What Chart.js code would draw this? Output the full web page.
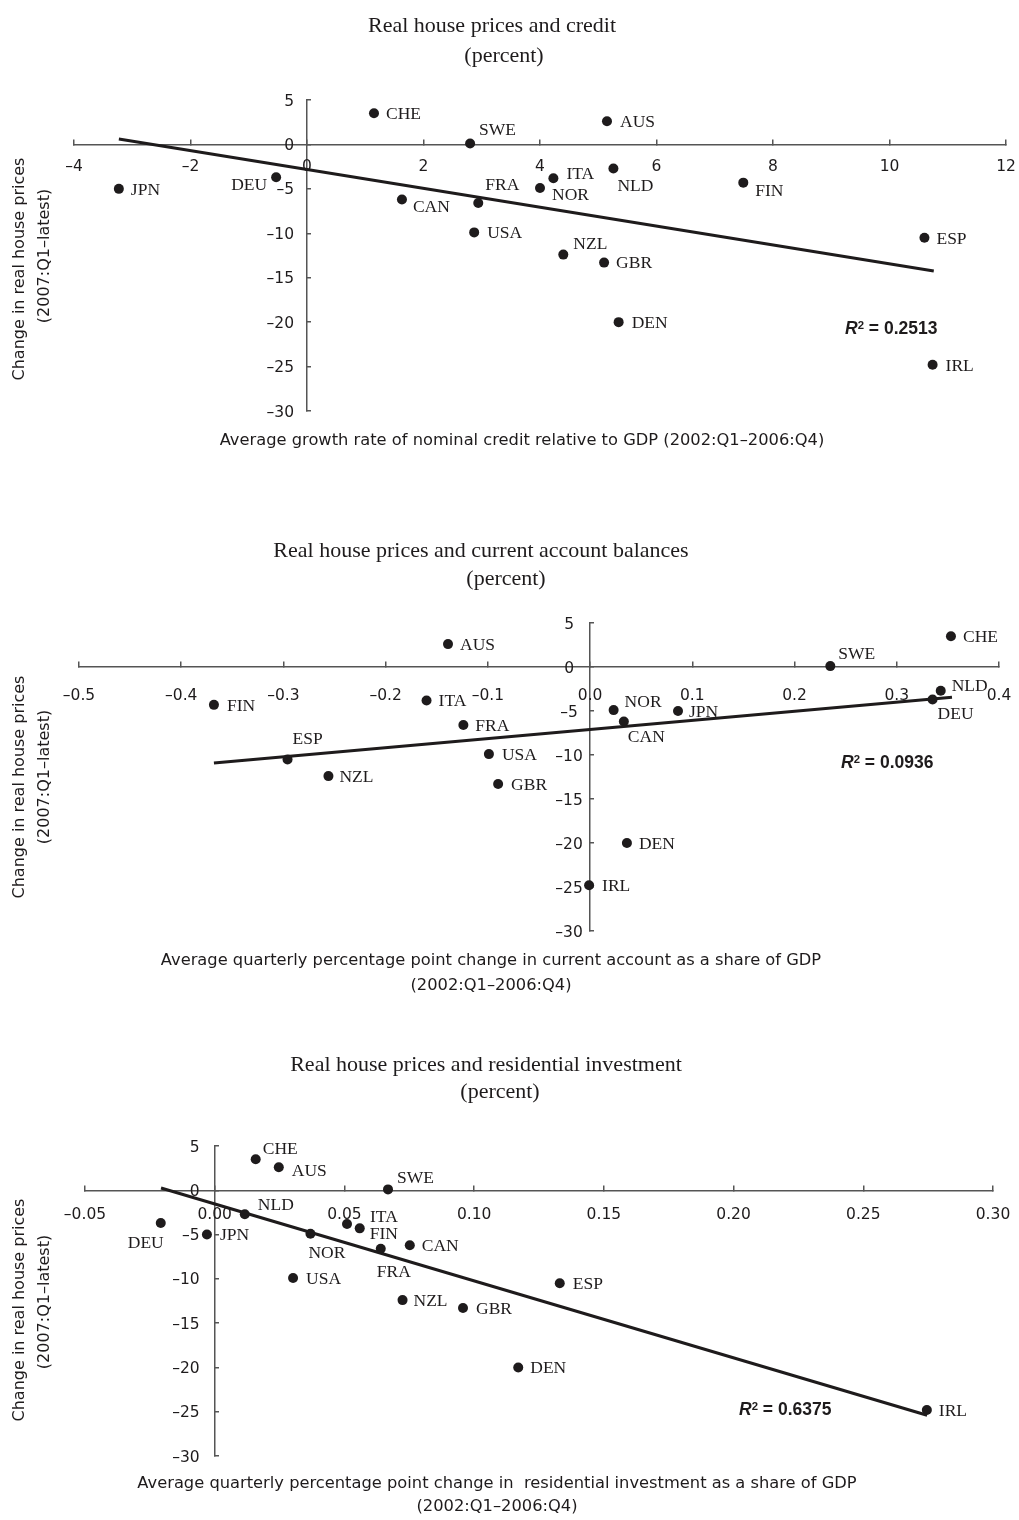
<!DOCTYPE html>
<html><head><meta charset="utf-8">
<script src="https://cdn.jsdelivr.net/npm/chart.js@4.4.1/dist/chart.umd.min.js"></script>
<style>
html,body{margin:0;padding:0;background:#fff;}
#wrap{position:relative;width:1019px;height:1520px;overflow:hidden;background:#fff;}
canvas{position:absolute;left:0;}
.t{position:absolute;white-space:nowrap;line-height:1;color:#1e1b1c;transform:translate(-50%,-50%);}
.serif{font-family:"Liberation Serif","Times New Roman",serif;font-size:22px;}
.sans{font-family:"DejaVu Sans",sans-serif;font-size:16.3px;}
.rot{transform:translate(-50%,-50%) rotate(-90deg);font-size:16px;}
.r2{position:absolute;white-space:nowrap;line-height:1;color:#1e1b1c;font-family:"Liberation Sans",Arial,sans-serif;font-weight:bold;font-size:17.5px;transform:translateY(-50%);}
.r2 sup{font-size:0.65em;position:relative;top:-0.45em;vertical-align:baseline;line-height:0;}
</style></head>
<body><div id="wrap">
<canvas id="c1" width="1019" height="470" style="top:0px;width:1019px;height:470px"></canvas>
<canvas id="c2" width="1019" height="530" style="top:470px;width:1019px;height:530px"></canvas>
<canvas id="c3" width="1019" height="520" style="top:1000px;width:1019px;height:520px"></canvas>

<div class="t serif" style="left:492px;top:24.5px">Real house prices and credit</div>
<div class="t serif" style="left:504px;top:55px">(percent)</div>
<div class="t sans rot" style="left:18.5px;top:269px">Change in real house prices</div>
<div class="t sans rot" style="left:44px;top:256px">(2007:Q1–latest)</div>
<div class="t sans" style="left:522px;top:440px">Average growth rate of nominal credit relative to GDP (2002:Q1–2006:Q4)</div>
<div class="r2" id="r2a" style="left:845px;top:329px"></div>

<div class="t serif" style="left:481px;top:550px">Real house prices and current account balances</div>
<div class="t serif" style="left:506px;top:578px">(percent)</div>
<div class="t sans rot" style="left:18.5px;top:787px">Change in real house prices</div>
<div class="t sans rot" style="left:44px;top:777px">(2007:Q1–latest)</div>
<div class="t sans" style="left:491px;top:960px">Average quarterly percentage point change in current account as a share of GDP</div>
<div class="t sans" style="left:491px;top:985px">(2002:Q1–2006:Q4)</div>
<div class="r2" id="r2b" style="left:841px;top:763px"></div>

<div class="t serif" style="left:486px;top:1064px">Real house prices and residential investment</div>
<div class="t serif" style="left:500px;top:1091px">(percent)</div>
<div class="t sans rot" style="left:18.5px;top:1310px">Change in real house prices</div>
<div class="t sans rot" style="left:44px;top:1302px">(2007:Q1–latest)</div>
<div class="t sans" style="left:497px;top:1483px">Average quarterly percentage point change in&nbsp; residential investment as a share of GDP</div>
<div class="t sans" style="left:497px;top:1506px">(2002:Q1–2006:Q4)</div>
<div class="r2" id="r2c" style="left:739px;top:1410px"></div>
</div>
<script>
// ---------------- data ----------------
const countries = ['AUS','CAN','CHE','DEN','DEU','ESP','FIN','FRA','GBR','IRL','ITA','JPN','NLD','NOR','NZL','SWE','USA'];
const housePriceChange = [2.6,-6.2,3.5,-20.0,-3.7,-10.5,-4.3,-6.6,-13.3,-24.8,-3.8,-5.0,-2.7,-4.9,-12.4,0.1,-9.9];
const creditGrowth = [5.15,1.63,1.15,5.35,-0.53,10.6,7.49,2.94,5.1,10.74,4.23,-3.23,5.26,4.0,4.4,2.8,2.87];
const currentAccountChange = [-0.139,0.033,0.353,0.036,0.335,-0.296,-0.368,-0.124,-0.090,-0.001,-0.160,0.086,0.343,0.023,-0.256,0.235,-0.099];
const resInvestmentChange = [0.0247,0.0752,0.0158,0.117,-0.0208,0.133,0.0559,0.064,0.0957,0.2745,0.051,-0.003,0.0116,0.0369,0.0724,0.0668,0.0302];
const trend1X = [-3.23, 10.76], trend1Y = [0.6, -14.25];
const trend2X = [-0.368, 0.354], trend2Y = [-10.9, -3.45];
const trend3X = [-0.0207, 0.2746], trend3Y = [0.26, -25.4];
const rSquared = ['0.2513','0.0936','0.6375'];
const yTicks = [-30,-25,-20,-15,-10,-5,0,5];
const yTickLabels = ['–30','–25','–20','–15','–10','–5','0','5'];
const x1Ticks = [-4,-2,0,2,4,6,8,10,12];
const x1TickLabels = ['–4','–2','0','2','4','6','8','10','12'];
const x2Ticks = [-0.5,-0.4,-0.3,-0.2,-0.1,0,0.1,0.2,0.3,0.4];
const x2TickLabels = ['–0.5','–0.4','–0.3','–0.2','–0.1','0.0','0.1','0.2','0.3','0.4'];
const x3Ticks = [-0.05,0,0.05,0.10,0.15,0.20,0.25,0.30];
const x3TickLabels = ['–0.05','0.00','0.05','0.10','0.15','0.20','0.25','0.30'];

// ---------------- label placement (style) ----------------
const place = {
  c1: {CHE:[12,0],SWE:[9,-14],JPN:[12,0],DEU:[-9,7,'right'],CAN:[11,7],FRA:[7,-19],USA:[13,0],AUS:[13,0],ITA:[13,-5],NLD:[4,17],NOR:[12,6],FIN:[12,8],ESP:[12,0],NZL:[10,-11],GBR:[12,0],DEN:[13,0],IRL:[13,0]},
  c2: {AUS:[12,0],FIN:[13,0],ITA:[12,0],FRA:[12,0],ESP:[5,-21],NZL:[11,0],USA:[13,0],GBR:[13,0],CHE:[12,0],SWE:[8,-13],NLD:[11,-6],DEU:[5,14],NOR:[11,-9],JPN:[11,0],CAN:[4,15],DEN:[12,0],IRL:[13,0]},
  c3: {CHE:[7,-11],AUS:[13,3],SWE:[9,-12],NLD:[13,-10],DEU:[3,19,'right'],JPN:[13,0],NOR:[-2,19],ITA:[23,-8],FIN:[10,5],FRA:[-4,22],CAN:[12,0],USA:[13,0],NZL:[11,0],GBR:[13,0],ESP:[13,0],DEN:[12,0],IRL:[12,0]}
};
const tickStyle = {
  c1: {xTicks:x1Ticks, xLabels:x1TickLabels, xOff:20.7, yAlign:'right', yDx:-13},
  c2: {xTicks:x2Ticks, xLabels:x2TickLabels, xOff:27, yAlign:'center', yDx:-21},
  c3: {xTicks:x3Ticks, xLabels:x3TickLabels, xOff:23, yAlign:'right', yDx:-15}
};
const INK = '#1e1b1c';
const AXIS = '#555555';
const TICK_PX = 15.5;
const LABEL_PX = 17.5;

const textPlugin = {
  id: 'textPlugin',
  afterDatasetsDraw(chart) {
    const id = chart.canvas.id;
    const ctx = chart.ctx;
    const xs = chart.scales.x, ys = chart.scales.y;
    const meta = chart.getDatasetMeta(0);
    ctx.save();
    ctx.fillStyle = INK;
    ctx.textBaseline = 'alphabetic';
    ctx.font = LABEL_PX + 'px "Liberation Serif", "Times New Roman", serif';
    meta.data.forEach((pt, i) => {
      const name = countries[i];
      const p = place[id][name] || [12, 0];
      ctx.textAlign = p[2] || 'left';
      ctx.fillText(name, pt.x + p[0], pt.y + p[1] + 0.331 * LABEL_PX);
    });
    const ts = tickStyle[id];
    const x0 = xs.getPixelForValue(0), y0 = ys.getPixelForValue(0);
    ctx.font = TICK_PX + 'px "DejaVu Sans", sans-serif';
    ctx.textAlign = 'center';
    ts.xTicks.forEach((v, i) => {
      ctx.fillText(ts.xLabels[i], xs.getPixelForValue(v), y0 + ts.xOff + 0.364 * TICK_PX);
    });
    ctx.textAlign = ts.yAlign;
    yTicks.forEach((v, i) => {
      ctx.fillText(yTickLabels[i], x0 + ts.yDx, ys.getPixelForValue(v) + 0.364 * TICK_PX);
    });
    ctx.restore();
  }
};

function makeChart(id, xData, tX, tY, xTicks, padding) {
  const pts = xData.map((x, i) => ({x: x, y: housePriceChange[i]}));
  const line = tX.map((x, i) => ({x: x, y: tY[i]}));
  return new Chart(document.getElementById(id), {
    type: 'scatter',
    data: {
      datasets: [
        {data: pts, pointRadius: 5, pointHoverRadius: 5, pointBackgroundColor: INK, pointBorderWidth: 0, showLine: false, clip: false, order: 2},
        {type: 'line', data: line, borderColor: INK, borderWidth: 3, pointRadius: 0, fill: false, tension: 0, clip: false, order: 1}
      ]
    },
    options: {
      responsive: false,
      maintainAspectRatio: false,
      devicePixelRatio: 1,
      animation: false,
      events: [],
      layout: {padding: padding},
      plugins: {legend: {display: false}, tooltip: {enabled: false}, title: {display: false}},
      scales: {
        x: {
          type: 'linear', axis: 'x', position: {y: 0},
          min: xTicks[0], max: xTicks[xTicks.length - 1],
          afterBuildTicks: (s) => { s.ticks = xTicks.map(v => ({value: v})); },
          ticks: {display: false},
          grid: {drawOnChartArea: false, drawTicks: true, tickLength: -6, color: AXIS, tickColor: AXIS, lineWidth: 1.5, tickWidth: 1.5},
          border: {display: true, color: AXIS, width: 1.5},
          title: {display: false}
        },
        y: {
          type: 'linear', axis: 'y', position: {x: 0},
          min: yTicks[0], max: yTicks[yTicks.length - 1],
          afterBuildTicks: (s) => { s.ticks = yTicks.map(v => ({value: v})); },
          ticks: {display: false},
          grid: {drawOnChartArea: false, drawTicks: true, tickLength: -5, color: AXIS, tickColor: AXIS, lineWidth: 1.5, tickWidth: 1.5},
          border: {display: true, color: AXIS, width: 1.5},
          title: {display: false}
        }
      }
    },
    plugins: [textPlugin]
  });
}

makeChart('c1', creditGrowth, trend1X, trend1Y, x1Ticks, {left: 74, right: 13, top: 100, bottom: 59});
makeChart('c2', currentAccountChange, trend2X, trend2Y, x2Ticks, {left: 79, right: 20, top: 153, bottom: 69});
makeChart('c3', resInvestmentChange, trend3X, trend3Y, x3Ticks, {left: 85, right: 26, top: 146, bottom: 64});

['r2a','r2b','r2c'].forEach((id, i) => {
  document.getElementById(id).innerHTML = '<i>R</i><sup>2</sup> = ' + rSquared[i];
});
</script>
</body></html>
